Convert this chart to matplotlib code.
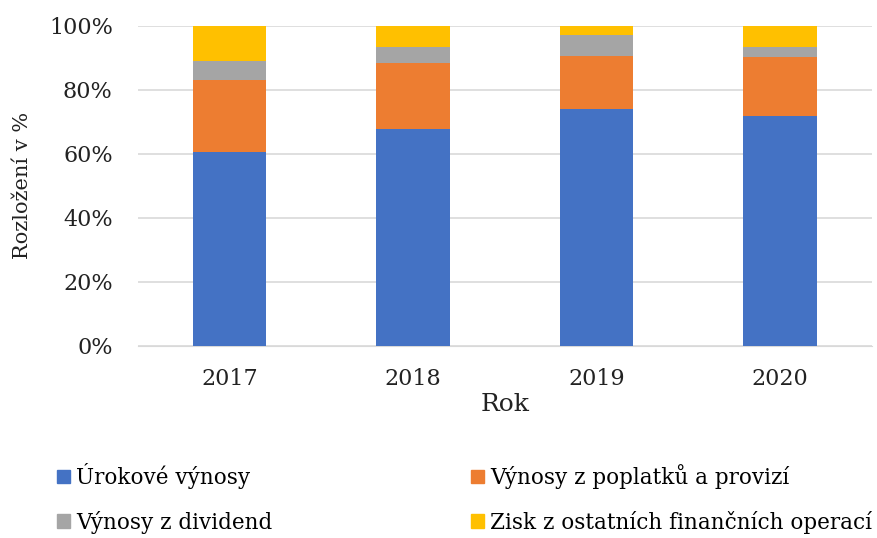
import matplotlib.pyplot as plt
from matplotlib.patches import Patch
from matplotlib.ticker import PercentFormatter

plt.rcParams['font.family'] = ['DejaVu Serif']

years = ['2017', '2018', '2019', '2020']
urokove = [60.5, 67.9, 74.1, 71.9]
poplatky = [22.7, 20.4, 16.5, 18.4]
dividendy = [5.8, 5.0, 6.4, 3.0]
ostatni = [11.0, 6.7, 3.0, 6.7]

labels = ['Úrokové výnosy', 'Výnosy z poplatků a provizí',
          'Výnosy z dividend', 'Zisk z ostatních finančních operací']
colors = ['#4472C4', '#ED7D31', '#A5A5A5', '#FFC000']

fig = plt.figure(figsize=(8.77, 5.38), dpi=100)
ax = fig.add_axes([0.157, 0.357, 0.837, 0.595])

x = range(len(years))
bottom = [0.0] * len(years)
for vals, col, lab in zip([urokove, poplatky, dividendy, ostatni], colors, labels):
    ax.bar(x, vals, width=0.4, bottom=bottom, color=col, label=lab, zorder=3)
    bottom = [b + v for b, v in zip(bottom, vals)]

ax.set_ylim(0, 100)
ax.set_xlim(-0.5, 3.5)
ax.set_yticks(range(0, 101, 20))
ax.yaxis.set_major_formatter(PercentFormatter(decimals=0))
ax.set_xticks(list(x))
ax.set_xticklabels(years)
ax.grid(axis='y', color='#D9D9D9', linewidth=1.2, zorder=0)
for s in ['top', 'right', 'left']:
    ax.spines[s].set_visible(False)
ax.spines['bottom'].set_color('#D9D9D9')
ax.tick_params(length=0, labelsize=16, colors='#222222', pad=16)
ax.tick_params(axis='y', pad=18)
ax.set_ylabel('Rozložení v %', fontsize=15, color='#222222', labelpad=12)
ax.set_xlabel('Rok', fontsize=18, color='#222222', labelpad=2)

handles = [Patch(color=c) for c in colors]
order = [0, 2, 1, 3]
fig.legend([handles[i] for i in order], [labels[i] for i in order],
           ncol=2, loc='lower left', bbox_to_anchor=(0.043, -0.028),
           frameon=False, fontsize=15.5, handlelength=0.6, handleheight=0.6,
           handletextpad=0.3, columnspacing=9.2, labelspacing=1.0)

fig.savefig('out.png', dpi=100)
